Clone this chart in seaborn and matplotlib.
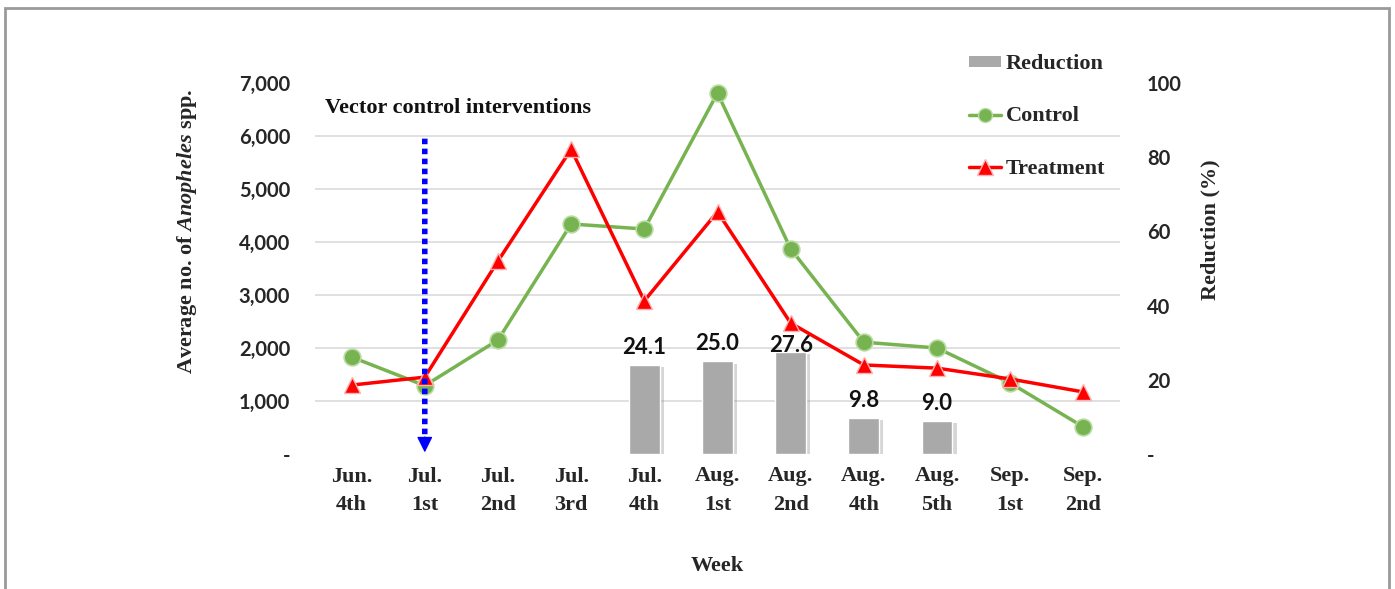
import numpy as np
import pandas as pd
import seaborn as sns
import matplotlib
matplotlib.use('Agg')
import matplotlib.pyplot as plt
from matplotlib.patches import Rectangle
from matplotlib.lines import Line2D
from matplotlib.patches import Patch
from matplotlib import patheffects as pe
from matplotlib.ticker import FixedLocator

sns.set_theme(style='white')
plt.rcParams['mathtext.fontset'] = 'custom'
plt.rcParams['mathtext.rm'] = 'Liberation Serif:bold'
plt.rcParams['mathtext.it'] = 'Liberation Serif:italic:bold'

# data
weeks = ['Jun.\n4th', 'Jul.\n1st', 'Jul.\n2nd', 'Jul.\n3rd', 'Jul.\n4th', 'Aug.\n1st',
         'Aug.\n2nd', 'Aug.\n4th', 'Aug.\n5th', 'Sep.\n1st', 'Sep.\n2nd']
control = [1830, 1290, 2150, 4340, 4245, 6810, 3870, 2110, 2000, 1340, 510]
treatment = [1300, 1450, 3640, 5750, 2890, 4570, 2470, 1680, 1620, 1415, 1170]
red_weeks = ['Jul.\n4th', 'Aug.\n1st', 'Aug.\n2nd', 'Aug.\n4th', 'Aug.\n5th']
reduction = [24.1, 25.0, 27.6, 9.8, 9.0]
left_ticks = [0, 1000, 2000, 3000, 4000, 5000, 6000, 7000]
left_labels = ['-', '1,000', '2,000', '3,000', '4,000', '5,000', '6,000', '7,000']
right_ticks = [0, 20, 40, 60, 80, 100]
right_labels = ['-', '20', '40', '60', '80', '100']

green = '#77B350'
red = '#FF0000'
bar_grey = '#A9A9A9'
serif = 'Liberation Serif'
sans = 'Lato'

lines_df = pd.DataFrame({'week': weeks, 'Control': control, 'Treatment': treatment})
bars_df = pd.DataFrame({'week': red_weeks, 'Reduction': reduction})

fig = plt.figure(figsize=(13.95, 5.89), dpi=100)
ax = fig.add_axes([315 / 1395, 1 - 454 / 589, 805 / 1395, 371 / 589])
ax2 = ax.twinx()

# bars on the right axis, drawn behind the lines
sns.barplot(data=bars_df, x='week', y='Reduction', order=weeks, color=bar_grey,
            width=0.42, saturation=1, ax=ax2, zorder=2)
for p in ax2.patches:
    p.set_path_effects([pe.SimplePatchShadow(offset=(3, -2), shadow_rgbFace='#8a8a8a', alpha=0.35),
                        pe.Normal()])
labels = ax2.bar_label(ax2.containers[0], fmt='%.1f', padding=5, fontsize=16,
                       fontweight='bold', family=sans, color='#111111')
# the 27.6 label sits lower in the original, clear of the red marker
labels[2].xyann = (0, -3)

sns.lineplot(data=lines_df, x='week', y='Control', ax=ax, color=green, lw=2.5,
             marker='o', markersize=12, markeredgecolor='#b6dba0', markeredgewidth=1.2,
             sort=False, zorder=4)
sns.lineplot(data=lines_df, x='week', y='Treatment', ax=ax, color=red, lw=2.5,
             marker='^', markersize=12, markeredgecolor='#ffb0b0', markeredgewidth=1.0,
             sort=False, zorder=5)

ax.set_zorder(ax2.get_zorder() + 1)
ax.patch.set_visible(False)

ax.set_ylim(0, 7000)
ax2.set_ylim(0, 100)
ax.set_xlim(-0.5, len(weeks) - 0.5)

# gridlines follow the left axis, but live on the back axis so bars cover them
ax.grid(False)
ax2.grid(False)
ax2.yaxis.set_minor_locator(FixedLocator([t / 7000 * 100 for t in left_ticks]))
ax2.grid(which='minor', axis='y', color='#DADADA', lw=1.2, zorder=0)
ax2.tick_params(which='minor', length=0)
ax2.set_axisbelow(True)

ax.set_yticks(left_ticks)
ax.set_yticklabels(left_labels, fontsize=14.5, fontweight='bold', family=sans)
ax2.set_yticks(right_ticks)
ax2.set_yticklabels(right_labels, fontsize=14.5, fontweight='bold', family=sans)
ax.tick_params(axis='y', length=0, pad=18)
ax2.tick_params(axis='y', length=0, pad=19.5)
ax.set_xticks(range(len(weeks)))
ax.set_xticklabels(weeks, fontsize=16, fontweight='bold', family=serif, linespacing=1.55)
ax.tick_params(axis='x', length=0, pad=9)

for a in (ax, ax2):
    for s in a.spines.values():
        s.set_visible(False)

ax.set_xlabel('Week', fontsize=16, fontweight='bold', family=serif)
ax.xaxis.set_label_coords(0.5, -0.275)
ax.set_ylabel(r'Average no. of $\mathit{Anopheles}$ spp.', fontsize=16,
              fontweight='bold', family=serif)
ax.yaxis.set_label_coords(-0.1436, 0.6)
ax2.set_ylabel('Reduction (%)', fontsize=16, fontweight='bold', family=serif)
ax2.yaxis.set_label_coords(1.1, 0.605)

# intervention marker: dotted shaft plus solid head
ax.text(-0.36, 6530, 'Vector control interventions', fontsize=16, fontweight='bold',
        family=serif, va='center', ha='left', color='#111111')
ax.annotate('', xy=(1, 300), xytext=(1, 5950),
            arrowprops=dict(arrowstyle='-', linestyle=(0, (1, 0.8)), color='#0000FF',
                            lw=4, shrinkA=0, shrinkB=0, capstyle='butt'), zorder=6)
ax.annotate('', xy=(1, 30), xytext=(1, 320),
            arrowprops=dict(arrowstyle='-|>', color='#0000FF', lw=1,
                            mutation_scale=24, shrinkA=0, shrinkB=0), zorder=6)

handles = [Patch(facecolor=bar_grey, edgecolor='none'),
           Line2D([], [], color=green, lw=2.5, marker='o', markersize=10,
                  markeredgecolor='#b6dba0'),
           Line2D([], [], color=red, lw=2.5, marker='^', markersize=11,
                  markeredgecolor='#ffb0b0')]
leg = fig.legend(handles, ['Reduction', 'Control', 'Treatment'], loc='upper left',
                 bbox_to_anchor=(958 / 1395, 1 - 43 / 589), frameon=False,
                 prop={'family': serif, 'weight': 'bold', 'size': 16},
                 labelspacing=1.45, handlelength=1.45, handletextpad=0.2,
                 handleheight=0.4, borderpad=0)

fig.add_artist(Rectangle((5 / 1395, -0.1), 1384 / 1395, 1.1 - 8 / 589,
                         transform=fig.transFigure, fill=False, ec='#9a9a9a', lw=2))

fig.savefig('out.png', dpi=100)
plt.close(fig)
